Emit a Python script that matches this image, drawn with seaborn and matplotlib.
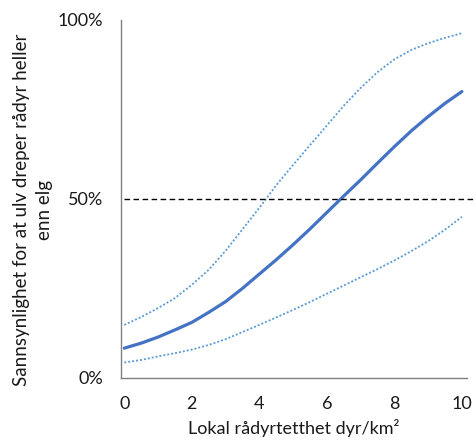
import numpy as np
import pandas as pd
import matplotlib
matplotlib.use("Agg")
import matplotlib.pyplot as plt
import seaborn as sns

# tetthet (dyr/km2) og sannsynlighet (%)
tetthet = [0, 0.5, 1, 1.5, 2, 2.5, 3, 3.5, 4, 4.5, 5,
           5.5, 6, 6.5, 7, 7.5, 8, 8.5, 9, 9.5, 10]
estimat = [8.3, 9.7, 11.4, 13.4, 15.5, 18.3, 21.3, 25, 29, 33, 37.2,
           41.6, 46.2, 50.8, 55.3, 60, 64.6, 69, 73, 76.7, 80]
ovre = [14.8, 17, 19.5, 22.3, 26, 30.2, 35.5, 41.5, 47.5, 53.8, 59.5,
        65, 70.5, 76, 81, 85.4, 89, 91.6, 93.5, 95, 96.3]
nedre = [4.3, 5, 6, 6.9, 7.9, 9.2, 10.8, 12.8, 14.8, 16.9, 19,
         21.2, 23.5, 25.8, 28.1, 30.4, 32.8, 35.4, 38.2, 41.4, 45]
terskel = 50

x_ticks = [0, 2, 4, 6, 8, 10]
y_ticks = [0, 50, 100]
y_ticklabels = ["0%", "50%", "100%"]

sns.set_style("white")
plt.rcParams["font.family"] = ["Lato", "DejaVu Sans"]

df = pd.DataFrame({"x": tetthet, "est": estimat, "hi": ovre, "lo": nedre})

fig = plt.figure(figsize=(4.76, 4.43), dpi=100)
ax = fig.add_axes([0.254, 0.147, 0.727, 0.808])

blue = "#4472C4"
light = "#5B9BD5"
sns.lineplot(data=df, x="x", y="hi", ax=ax, color=light, lw=1.3, linestyle=(0, (1.1, 1.1)))
sns.lineplot(data=df, x="x", y="lo", ax=ax, color=light, lw=1.3, linestyle=(0, (1.1, 1.1)))
sns.lineplot(data=df, x="x", y="est", ax=ax, color=blue, lw=2.3)
ax.plot([0, 10.4], [terskel, terskel], color="black", lw=1.0,
        linestyle=(0, (4, 2.5)), clip_on=False)

ax.set_xlim(-0.1, 10.15)
ax.set_ylim(0, 100)
ax.set_xticks(x_ticks)
ax.set_yticks(y_ticks)
ax.set_yticklabels(y_ticklabels)
ax.tick_params(axis="both", length=0, labelsize=13, colors="#1a1a1a")
ax.tick_params(axis="x", pad=13)
ax.tick_params(axis="y", pad=13)

for s in ["top", "right"]:
    ax.spines[s].set_visible(False)
for s in ["left", "bottom"]:
    ax.spines[s].set_color("#808080")
    ax.spines[s].set_linewidth(1.0)

ax.set_xlabel("Lokal rådyrtetthet dyr/km²", fontsize=13, color="#1a1a1a", labelpad=5)
ax.set_ylabel("Sannsynlighet for at ulv dreper rådyr heller\nenn elg", fontsize=13.5,
              color="#1a1a1a", linespacing=1.45)
ax.yaxis.set_label_coords(-0.195, 0.47)

fig.savefig("out.png", dpi=100)
